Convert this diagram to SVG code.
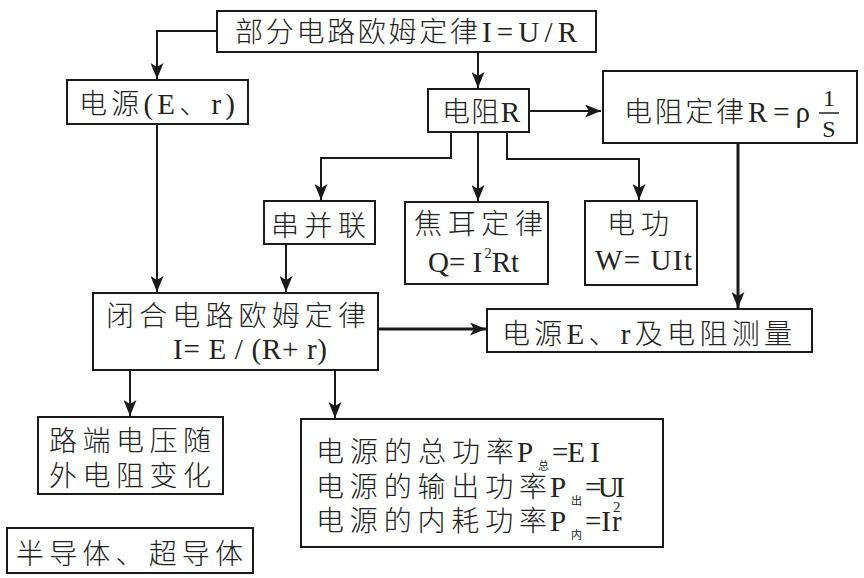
<svg xmlns="http://www.w3.org/2000/svg" width="864" height="578" viewBox="0 0 864 578">
<style>
.box{fill:#fff;stroke:#1a1a1a;stroke-width:2}
.t{font-family:"Noto Sans CJK SC","Liberation Serif",sans-serif;font-size:28px;font-weight:300;fill:#222}
.l{font-family:"Liberation Serif",serif;font-size:29px;font-weight:normal;fill:#222}
.s{font-family:"Noto Sans CJK SC",sans-serif;font-size:11px;fill:#222}
.sup{font-family:"Liberation Serif",serif;font-size:15px;fill:#222}
.c{fill:none;stroke:#1a1a1a;stroke-width:2}
.ck{fill:none;stroke:#1a1a1a;stroke-width:3}
</style>
<defs>
<marker id="ah" markerUnits="userSpaceOnUse" markerWidth="17" markerHeight="13" refX="16" refY="6.5" orient="auto">
<path d="M0,0 L16,6.5 L0,13 L4,6.5 z" fill="#1a1a1a"/>
</marker>
</defs>
<rect width="864" height="578" fill="#fff"/>
<g id="connectors">
<path class="c" d="M217,31 H157 V79" marker-end="url(#ah)"/>
<path class="c" d="M478,52 V88" marker-end="url(#ah)"/>
<path class="c" d="M529,111 H601" marker-end="url(#ah)"/>
<path class="c" d="M451,132 V158 H321 V200" marker-end="url(#ah)"/>
<path class="c" d="M478,132 V201" marker-end="url(#ah)"/>
<path class="c" d="M507,132 V159 H639 V200" marker-end="url(#ah)"/>
<path class="ck" d="M738,143 V308" marker-end="url(#ah)"/>
<path class="c" d="M157,124 V292" marker-end="url(#ah)"/>
<path class="c" d="M286,244 V292" marker-end="url(#ah)"/>
<path class="ck" d="M378,329 H486" marker-end="url(#ah)"/>
<path class="c" d="M130,370 V416" marker-end="url(#ah)"/>
<path class="c" d="M335,370 V418" marker-end="url(#ah)"/>
</g>
<g id="n-top">
<rect class="box" x="217" y="11" width="379" height="41"/>
<text class="t" x="235" y="42" textLength="243" lengthAdjust="spacing">部分电路欧姆定律</text>
<text class="l" x="482" y="42" textLength="95" lengthAdjust="spacing">I=U/R</text>
</g>
<g id="n-source">
<rect class="box" x="67" y="80" width="181" height="44"/>
<text class="t" x="79" y="114" textLength="156" lengthAdjust="spacing">电源<tspan class="l">(E</tspan>、<tspan class="l">r)</tspan></text>
</g>
<g id="n-resistor">
<rect class="box" x="428" y="89" width="101" height="43"/>
<text class="t" x="442" y="122" textLength="78" lengthAdjust="spacing">电阻<tspan class="l">R</tspan></text>
</g>
<g id="n-rlaw">
<rect class="box" x="603" y="71" width="254" height="72"/>
<text class="t" x="624" y="122" textLength="120" lengthAdjust="spacing">电阻定律</text>
<text class="l" x="748" y="122" textLength="62" lengthAdjust="spacing">R=ρ</text>
<text class="l" x="829" y="106" text-anchor="middle" style="font-size:24px">1</text>
<line x1="819" y1="113" x2="839" y2="113" stroke="#222" stroke-width="1.5"/>
<text class="l" x="829" y="137" text-anchor="middle" style="font-size:24px">S</text>
</g>
<g id="n-series">
<rect class="box" x="264" y="201" width="111" height="43"/>
<text class="t" x="271" y="236" textLength="95" lengthAdjust="spacing">串并联</text>
</g>
<g id="n-joule">
<rect class="box" x="405" y="202" width="143" height="82"/>
<text class="t" x="414" y="234" textLength="129" lengthAdjust="spacing">焦耳定律</text>
<text class="l" x="428" y="272">Q= I<tspan class="sup" dx="2" dy="-14">2</tspan><tspan dy="14">Rt</tspan></text>
</g>
<g id="n-work">
<rect class="box" x="585" y="201" width="112" height="84"/>
<text class="t" x="607" y="234" textLength="62" lengthAdjust="spacing">电功</text>
<text class="l" x="595" y="270" textLength="97" lengthAdjust="spacing">W= UIt</text>
</g>
<g id="n-closed">
<rect class="box" x="93" y="293" width="285" height="77"/>
<text class="t" x="106" y="326" textLength="260" lengthAdjust="spacing">闭合电路欧姆定律</text>
<text class="l" x="173" y="359" textLength="154" lengthAdjust="spacing">I= E / (R+ r)</text>
</g>
<g id="n-measure">
<rect class="box" x="487" y="309" width="325" height="43"/>
<text class="t" x="502" y="344" textLength="290" lengthAdjust="spacing">电源<tspan class="l">E</tspan>、<tspan class="l">r</tspan>及电阻测量</text>
</g>
<g id="n-terminal">
<rect class="box" x="38" y="417" width="185" height="77"/>
<text class="t" x="49" y="451" textLength="162" lengthAdjust="spacing">路端电压随</text>
<text class="t" x="49" y="486" textLength="162" lengthAdjust="spacing">外电阻变化</text>
</g>
<g id="n-power">
<rect class="box" x="301" y="419" width="362" height="128"/>
<text class="t" x="316" y="462" textLength="198" lengthAdjust="spacing">电源的总功率</text>
<text class="l" x="517" y="462">P</text>
<text class="s" x="538" y="470">总</text>
<text class="l" x="552" y="462" textLength="48" lengthAdjust="spacing">=E I</text>
<text class="t" x="316" y="497" textLength="231" lengthAdjust="spacing">电源的输出功率</text>
<text class="l" x="550" y="497">P</text>
<text class="s" x="571" y="505">出</text>
<text class="l" x="585" y="497" textLength="40" lengthAdjust="spacing">=UI</text>
<text class="t" x="316" y="531" textLength="231" lengthAdjust="spacing">电源的内耗功率</text>
<text class="l" x="550" y="531">P</text>
<text class="s" x="571" y="539">内</text>
<text class="l" x="585" y="531">=I</text>
<text class="sup" x="613" y="512">2</text>
<text class="l" x="612" y="531">r</text>
</g>
<g id="n-semi">
<rect class="box" x="7" y="528" width="246" height="45"/>
<text class="t" x="16" y="564" textLength="227" lengthAdjust="spacing">半导体、超导体</text>
</g>
</svg>
